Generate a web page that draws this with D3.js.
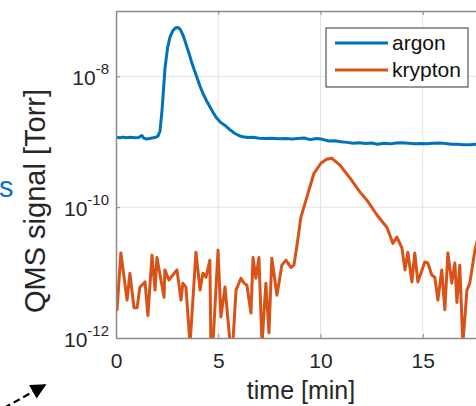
<!DOCTYPE html>
<html>
<head>
<meta charset="utf-8">
<script src="https://cdn.jsdelivr.net/npm/d3@7"></script>
<style>
  html, body { margin: 0; padding: 0; background: #fff; }
  svg { display: block; font-family: "Liberation Sans", Arial, sans-serif; }
</style>
</head>
<body>
<div id="chart"></div>
<script>
const seriesNames = ["argon", "krypton"]
const seriesColors = ["#0072BD", "#D95319"]

const xTicks = [0, 5, 10, 15]
const yTickExponents = [-12, -10, -8]

const argonTime = [0, 0.2, 0.35, 0.5, 0.7, 0.93, 1.1, 1.27, 1.35, 1.5, 1.7, 1.9, 2.05, 2.15, 2.25, 2.4, 2.52, 2.64,
  2.78, 2.9, 3.03, 3.15, 3.3, 3.47, 3.6, 3.71, 3.85, 3.96, 4.1, 4.25, 4.4, 4.6, 4.75, 4.9, 5.1, 5.33, 5.55, 5.8,
  6.0, 6.2, 6.45, 6.7, 7.0, 7.3, 7.6, 8.0, 8.3, 8.6, 8.9, 9.2, 9.5, 9.8, 10.1, 10.4, 10.7, 11.0, 11.3, 11.6, 11.9,
  12.2, 12.5, 12.8, 13.1, 13.4, 13.7, 14.0, 14.3, 14.6, 14.9, 15.2, 15.5, 15.8, 16.1, 16.4, 16.7, 17.0, 17.3, 17.6, 17.9]
const argonValue = [1.17e-9, 1.15e-9, 1.18e-9, 1.15e-9, 1.17e-9, 1.15e-9, 1.16e-9, 1.25e-9, 1.14e-9, 1.1e-9, 1.13e-9,
  1.16e-9, 1.22e-9, 1.45e-9, 3.0e-9, 1.37e-8, 2.7e-8, 4.0e-8, 5.0e-8, 5.5e-8, 5.6e-8, 5.2e-8, 4.1e-8, 2.8e-8, 2.1e-8,
  1.6e-8, 1.2e-8, 9.6e-9, 7.2e-9, 5.5e-9, 4.4e-9, 3.4e-9, 2.8e-9, 2.35e-9, 2.0e-9, 1.78e-9, 1.55e-9, 1.35e-9, 1.25e-9,
  1.19e-9, 1.16e-9, 1.17e-9, 1.13e-9, 1.12e-9, 1.13e-9, 1.11e-9, 1.12e-9, 1.10e-9, 1.12e-9, 1.14e-9, 1.08e-9, 1.12e-9,
  1.09e-9, 1.03e-9, 1.04e-9, 1.0e-9, 0.98e-9, 0.95e-9, 0.97e-9, 0.94e-9, 0.96e-9, 0.92e-9, 0.95e-9, 0.93e-9, 0.96e-9,
  0.97e-9, 0.95e-9, 0.93e-9, 0.94e-9, 0.93e-9, 0.95e-9, 0.96e-9, 0.94e-9, 0.92e-9, 0.92e-9, 0.90e-9, 0.90e-9, 0.92e-9, 0.91e-9]

const kryptonTime = [0, 0.05, 0.24, 0.54, 0.68, 0.88, 1.03, 1.17, 1.42, 1.56, 1.76, 1.91, 2.0, 2.35, 2.39, 2.59, 2.98,
  3.18, 3.27, 3.42, 3.62, 3.91, 4.11, 4.25, 4.4, 4.59, 4.64, 4.74, 4.99, 5.13, 5.33, 5.57, 5.72, 5.87, 6.11, 6.26,
  6.4, 6.6, 6.7, 6.84, 6.99, 7.14, 7.33, 7.48, 7.62, 7.87, 8.11, 8.31, 8.55, 8.7, 8.85, 9.04, 9.29, 9.68, 10.02,
  10.3, 10.56, 10.95, 11.44, 11.93, 12.27, 12.76, 13.25, 13.54, 13.73, 13.98, 14.13, 14.27, 14.47, 14.61, 14.76,
  15.1, 15.25, 15.44, 15.59, 15.74, 15.93, 16.08, 16.23, 16.42, 16.57, 16.67, 16.81, 16.96, 17.16, 17.3, 17.55, 17.8]
const kryptonValue = [5.4e-12, 2.7e-12, 2.0e-11, 3.8e-12, 9.8e-12, 2.9e-12, 2.9e-12, 6.0e-12, 7.2e-12, 2.2e-12, 1.85e-11,
  5.4e-12, 1.7e-11, 4.2e-12, 1.1e-11, 7.7e-12, 1.1e-11, 3.8e-12, 6.9e-12, 6.0e-12, 0.8e-12, 2.05e-11, 5.4e-12, 9.8e-12,
  8.5e-12, 1.55e-11, 0.8e-12, 0.8e-12, 2.2e-11, 2.1e-12, 6.0e-12, 0.9e-12, 0.9e-12, 5.4e-12, 8.2e-12, 6.9e-12,
  6.4e-12, 2.4e-12, 1.7e-11, 8.2e-12, 1.7e-11, 0.8e-12, 6.9e-12, 1.2e-12, 1.66e-11, 4.5e-12, 1.3e-11, 1.55e-11,
  1.2e-11, 1.3e-11, 2.6e-11, 7.0e-11, 1.28e-10, 3.3e-10, 4.7e-10, 5.4e-10, 5.6e-10, 4.4e-10, 2.8e-10, 1.7e-10,
  1.28e-10, 7.6e-11, 4.9e-11, 2.8e-11, 3.5e-11, 2.4e-11, 1.1e-11, 2.05e-11, 7.2e-12, 2.0e-11, 7.2e-12, 1.45e-11,
  1.4e-11, 9.2e-12, 8.5e-12, 3.8e-12, 1.1e-11, 2.7e-12, 2.0e-11, 6.9e-12, 1.4e-11, 3.5e-12, 1.3e-11, 0.8e-12,
  5.4e-12, 6.9e-12, 2.2e-11, 4.5e-11]

const width = 476
const height = 406
const margin = { top: 11, left: 116, bottom: 68 }
const plotBottom = height - margin.bottom
const axisColor = "#8a8a8a"
const textColor = "#262626"

const svg = d3.select("#chart").append("svg")
  .attr("width", width)
  .attr("height", height)

const xScale = d3.scaleLinear()
  .domain([0, 20])
  .range([margin.left, margin.left + 409])

const yScale = d3.scaleLog()
  .domain([1e-12, 1e-7])
  .range([plotBottom, margin.top])

// grid
svg.append("g")
  .selectAll("line.vgrid")
  .data(xTicks.filter(d => d > 0))
  .join("line")
    .attr("x1", d => xScale(d)).attr("x2", d => xScale(d))
    .attr("y1", margin.top).attr("y2", plotBottom)
    .attr("stroke", "#e3e3e3")
svg.append("g")
  .selectAll("line.hgrid")
  .data(yTickExponents.slice(1))
  .join("line")
    .attr("x1", margin.left).attr("x2", width)
    .attr("y1", d => yScale(Math.pow(10, d))).attr("y2", d => yScale(Math.pow(10, d)))
    .attr("stroke", "#e3e3e3")

svg.append("clipPath").attr("id", "plot-clip")
  .append("rect")
    .attr("x", margin.left).attr("y", margin.top)
    .attr("width", width - margin.left).attr("height", plotBottom - margin.top)

const line = d3.line()
  .x(d => xScale(d[0]))
  .y(d => yScale(d[1]))

const series = [
  d3.zip(argonTime, argonValue),
  d3.zip(kryptonTime, kryptonValue)
]

svg.append("g")
  .attr("clip-path", "url(#plot-clip)")
  .selectAll("path")
  .data(series)
  .join("path")
    .attr("d", line)
    .attr("fill", "none")
    .attr("stroke", (d, i) => seriesColors[i])
    .attr("stroke-width", 3)
    .attr("stroke-linejoin", "round")

// axes
const xAxis = svg.append("g")
  .attr("transform", `translate(0,${plotBottom})`)
  .call(d3.axisBottom(xScale).tickValues(xTicks).tickSizeInner(-4).tickSizeOuter(0).tickPadding(15))
xAxis.select(".domain").attr("stroke", axisColor).attr("stroke-width", 1.5)
xAxis.selectAll(".tick line").attr("stroke", axisColor)
xAxis.selectAll(".tick text")
  .attr("fill", textColor)
  .style("font-size", "21px")

const xTop = svg.append("g")
  .attr("transform", `translate(0,${margin.top})`)
  .call(d3.axisTop(xScale).tickValues(xTicks).tickSizeInner(-4).tickSizeOuter(0).tickFormat(""))
xTop.select(".domain").attr("stroke", axisColor).attr("stroke-width", 1.5)
xTop.selectAll(".tick line").attr("stroke", axisColor)

const yAxis = svg.append("g")
  .attr("transform", `translate(${margin.left},0)`)
  .call(d3.axisLeft(yScale).tickValues(yTickExponents.map(e => Math.pow(10, e)))
    .tickSizeInner(-4).tickSizeOuter(0).tickFormat(""))
yAxis.select(".domain").attr("stroke", axisColor).attr("stroke-width", 1.5)
yAxis.selectAll(".tick line").attr("stroke", axisColor)

const yLabels = yAxis.selectAll(".tick")
  .data(yTickExponents)
  .append("text")
    .attr("x", -7)
    .attr("y", 8)
    .attr("fill", textColor)
    .attr("text-anchor", "end")
    .style("font-size", "21px")
yLabels.append("tspan").text("10")
yLabels.append("tspan")
  .attr("dy", -11)
  .style("font-size", "15px")
  .text(d => d)

svg.append("text")
  .attr("x", (245 + 357) / 2)
  .attr("y", 399)
  .attr("text-anchor", "middle")
  .attr("fill", textColor)
  .style("font-size", "25px")
  .text("time [min]")

svg.append("text")
  .attr("transform", `translate(45,${(72 + 330) / 2}) rotate(-90)`)
  .attr("text-anchor", "middle")
  .attr("fill", textColor)
  .style("font-size", "29px")
  .text("QMS signal [Torr]")

// legend
const legend = svg.append("g").attr("transform", "translate(326,28)")
legend.append("rect")
  .attr("width", 142).attr("height", 59)
  .attr("fill", "#fff")
  .attr("stroke", "#333")
  .attr("stroke-width", 1)
const legendItems = legend.selectAll("g.item")
  .data(seriesNames)
  .join("g")
    .attr("transform", (d, i) => `translate(0,${15 + i * 27})`)
legendItems.append("line")
  .attr("x1", 9).attr("x2", 62)
  .attr("stroke", (d, i) => seriesColors[i])
  .attr("stroke-width", 3)
legendItems.append("text")
  .attr("x", 66).attr("y", 7)
  .attr("fill", "#111")
  .style("font-size", "21px")
  .text(d => d)

// leftover pieces from the neighbouring figure
svg.append("text")
  .attr("x", -1).attr("y", 197)
  .attr("fill", "#0a72c8")
  .style("font-size", "29px")
  .text("s")

const arrowDefs = svg.append("defs")
arrowDefs.append("marker")
  .attr("id", "arrowhead")
  .attr("viewBox", "0 0 10 10")
  .attr("refX", 9).attr("refY", 5)
  .attr("markerWidth", 8).attr("markerHeight", 7)
  .attr("orient", "auto")
  .append("path")
    .attr("d", "M0,0 L10,5 L0,10 z")
    .attr("fill", "#000")
svg.append("line")
  .attr("x1", 4).attr("y1", 408)
  .attr("x2", 45).attr("y2", 385)
  .attr("stroke", "#000")
  .attr("stroke-width", 2.2)
  .attr("stroke-dasharray", "7,4")
  .attr("marker-end", "url(#arrowhead)")
</script>
</body>
</html>
